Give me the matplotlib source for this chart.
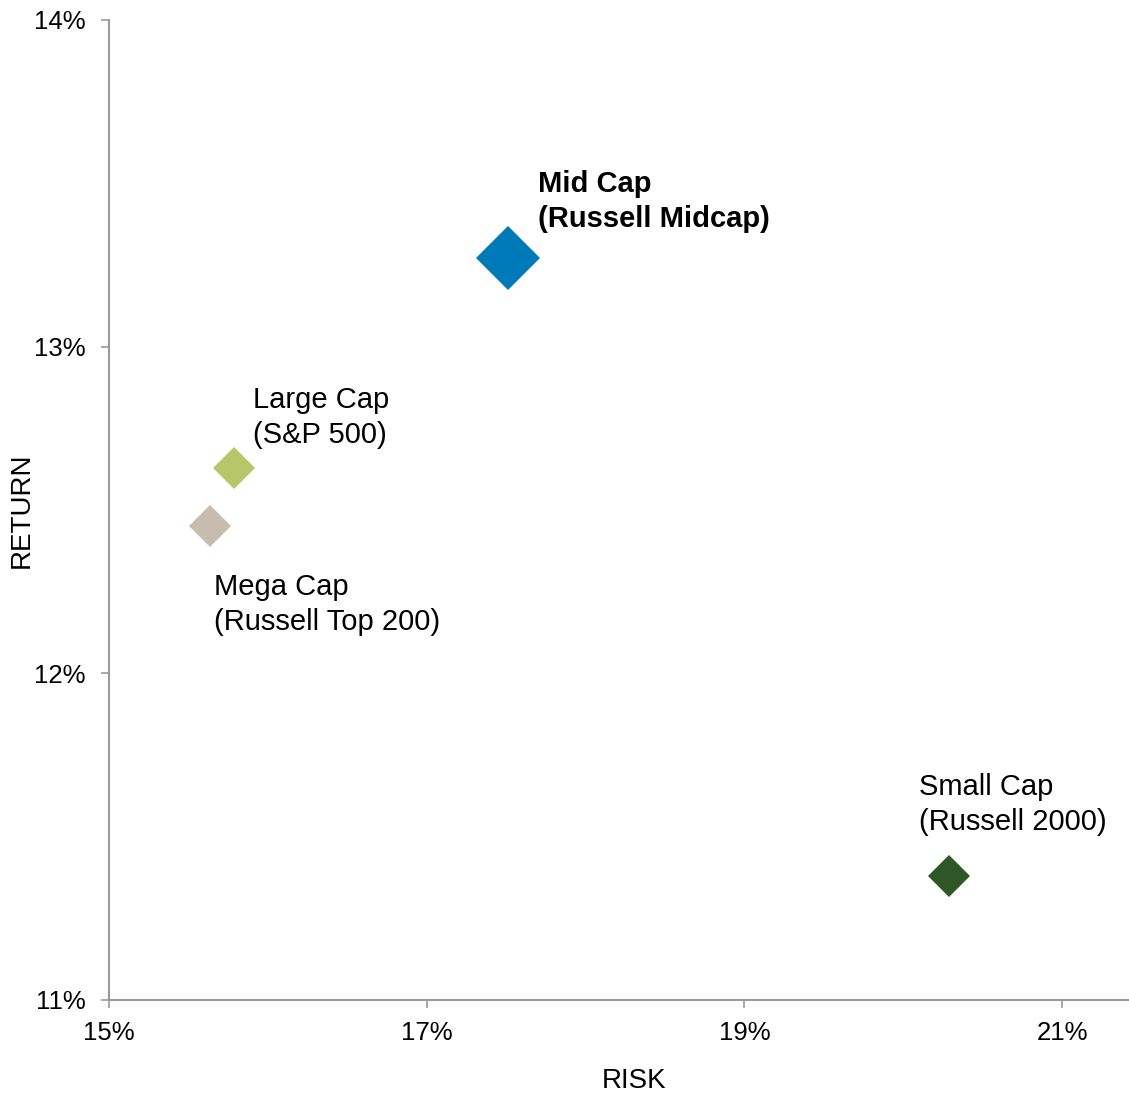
import matplotlib
matplotlib.use("Agg")
import matplotlib.pyplot as plt
from matplotlib.ticker import FuncFormatter

plt.rcParams['font.family'] = ['Liberation Sans', 'DejaVu Sans']

# Data
labels = ["Mid Cap\n(Russell Midcap)", "Large Cap\n(S&P 500)",
          "Mega Cap\n(Russell Top 200)", "Small Cap\n(Russell 2000)"]
risk = [17.51, 15.79, 15.635, 20.29]
ret = [13.27, 12.63, 12.45, 11.38]
colors = ["#0079B9", "#B8C66A", "#C8BCAE", "#2F5725"]
bold = [True, False, False, False]
x_ticks = [15, 17, 19, 21]
y_ticks = [11, 12, 13, 14]

# Styling (not data)
marker_sizes = [32.5, 21.8, 21.8, 21.3]
label_offsets_px = [(30, 57), (19, 50), (4, -78), (-30, 71)]

fig = plt.figure(figsize=(11.29, 10.96), dpi=100)
ax = fig.add_axes([0.0965, 0.0876, 0.9035, 0.8942])

for x, y, c, ms in zip(risk, ret, colors, marker_sizes):
    ax.plot([x], [y], marker='D', markersize=ms, color=c, linestyle='none',
            markeredgewidth=0, clip_on=False)

for x, y, lab, off, b in zip(risk, ret, labels, label_offsets_px, bold):
    ax.annotate(lab, xy=(x, y), xytext=off, textcoords='offset pixels',
                ha='left', va='center', fontsize=21,
                fontweight='bold' if b else 'normal', linespacing=1.32,
                color='black')

ax.set_xlim(15, 21.42)
ax.set_ylim(11, 14)
ax.set_xticks(x_ticks)
ax.set_yticks(y_ticks)
fmt = FuncFormatter(lambda v, p: f"{v:.0f}%")
ax.xaxis.set_major_formatter(fmt)
ax.yaxis.set_major_formatter(fmt)

for s in ['top', 'right']:
    ax.spines[s].set_visible(False)
for s in ['left', 'bottom']:
    ax.spines[s].set_color('#999999')
    ax.spines[s].set_linewidth(1.5)
ax.tick_params(axis='both', direction='out', length=6, width=1.2, color='#999999',
               labelsize=18.5, labelcolor='black')
ax.tick_params(axis='x', pad=9)
ax.tick_params(axis='y', pad=11)

ax.set_xlabel("RISK", fontsize=20, va='center')
ax.set_ylabel("RETURN", fontsize=20, va='center')
ax.xaxis.set_label_coords(0.515, -0.083)
ax.yaxis.set_label_coords(-0.0853, 0.5)

fig.savefig("out.png", dpi=100)
